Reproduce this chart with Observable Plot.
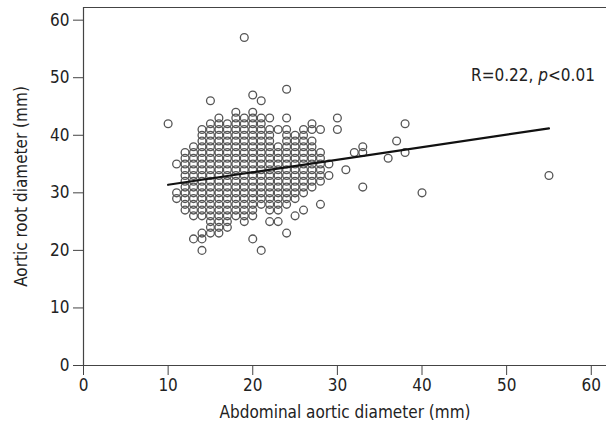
<!DOCTYPE html>
<html>
<head>
<meta charset="utf-8">
<script src="https://cdn.jsdelivr.net/npm/d3@7"></script>
<script src="https://cdn.jsdelivr.net/npm/@observablehq/plot@0.6"></script>
<style>
  html, body { margin: 0; padding: 0; background: #fff; }
  #chart svg { display: block; }
</style>
</head>
<body>
<div id="chart"></div>
<script>
// Abdominal aortic diameter (mm) columns and the aortic root diameters (mm) found in each
const abdominalColumns = [10, 11, 12, 13, 14, 15, 16, 17, 18, 19, 20, 21, 22, 23, 24, 25, 26, 27, 28, 29, 30, 31, 32, 33, 36, 37, 38, 40, 55];
const aorticRootByColumn = [
  [42],
  [35, 30, 29],
  [37, 36, 35, 34, 33, 32, 31, 30, 29, 28, 27],
  [38, 37, 36, 35, 34, 33, 32, 31, 30, 29, 28, 27, 26, 22],
  [41, 40, 39, 38, 37, 36, 35, 34, 33, 32, 31, 30, 29, 28, 27, 26, 23, 22, 20],
  [46, 42, 41, 40, 39, 38, 37, 36, 35, 34, 33, 32, 31, 30, 29, 28, 27, 26, 25, 24, 23],
  [43, 42, 41, 40, 39, 38, 37, 36, 35, 34, 33, 32, 31, 30, 29, 28, 27, 26, 25, 24, 23],
  [42, 41, 40, 39, 38, 37, 36, 35, 34, 33, 32, 31, 30, 29, 28, 27, 26, 25, 24],
  [44, 43, 42, 41, 40, 39, 38, 37, 36, 35, 34, 33, 32, 31, 30, 29, 28, 27, 26],
  [57, 43, 42, 41, 40, 39, 38, 37, 36, 35, 34, 33, 32, 31, 30, 29, 28, 27, 26, 25],
  [47, 44, 43, 42, 41, 40, 39, 38, 37, 36, 35, 34, 33, 32, 31, 30, 29, 28, 27, 26, 22],
  [46, 43, 42, 41, 40, 39, 38, 37, 36, 35, 34, 33, 32, 31, 30, 29, 28, 20],
  [43, 41, 40, 39, 38, 37, 36, 35, 34, 33, 32, 31, 30, 29, 28, 27, 25],
  [41, 38, 37, 36, 35, 34, 33, 32, 31, 30, 29, 28, 27, 25],
  [48, 43, 41, 40, 39, 38, 37, 36, 35, 34, 33, 32, 31, 30, 29, 28, 23],
  [40, 39, 38, 37, 36, 35, 34, 33, 32, 31, 30, 29, 26],
  [41, 40, 39, 38, 37, 36, 35, 34, 33, 32, 31, 30, 27],
  [42, 41, 39, 38, 37, 36, 35, 34, 33, 32, 31],
  [41, 37, 36, 35, 34, 33, 32, 28],
  [35, 33],
  [43, 41],
  [34],
  [37],
  [38, 37, 31],
  [36],
  [39],
  [42, 37],
  [30],
  [33]
];

// Regression line endpoints
const fitX = [10, 55];
const fitY = [31.4, 41.2];

const xTicks = [0, 10, 20, 30, 40, 50, 60];
const yTicks = [0, 10, 20, 30, 40, 50, 60];
const xLabel = "Abdominal aortic diameter (mm)";
const yLabel = "Aortic root diameter (mm)";
const annotation = "R=0.22, p<0.01";

const points = abdominalColumns.flatMap((x, i) => aorticRootByColumn[i].map(y => ({x, y})));
const fit = fitX.map((x, i) => ({x, y: fitY[i]}));

const xMax = 61.8, yMax = 62.2;
const font = "'Liberation Sans Narrow', 'DejaVu Sans Condensed', 'Roboto', sans-serif";

const chart = Plot.plot({
  width: 606,
  height: 432,
  marginLeft: 83,
  marginRight: 0,
  marginTop: 7,
  marginBottom: 67,
  style: {fontFamily: font, fontSize: "17px", color: "#222", background: "#fff"},
  x: {domain: [0, xMax]},
  y: {domain: [0, yMax]},
  marks: [
    Plot.axisX({ticks: xTicks, tickSize: 10, tickPadding: 3, label: xLabel, labelAnchor: "center", labelArrow: "none", labelOffset: 52, stroke: "#444", fontSize: 17}),
    Plot.axisY({ticks: yTicks, tickSize: 10, tickPadding: 4, label: yLabel, labelAnchor: "center", labelArrow: "none", labelOffset: 69, stroke: "#444", fontSize: 17}),
    Plot.ruleX([0], {stroke: "#444", strokeWidth: 1.2}),
    Plot.ruleY([0], {stroke: "#444", strokeWidth: 1.2}),
    Plot.ruleY([yMax], {stroke: "#444", strokeWidth: 1}),
    Plot.dot(points, {x: "x", y: "y", r: 3.9, stroke: "#555", strokeWidth: 1.3, fill: "none"}),
    Plot.line(fit, {x: "x", y: "y", stroke: "#111", strokeWidth: 2.2}),
    Plot.text([annotation], {x: 45.8, y: 50.4, text: d => d, textAnchor: "start", fontSize: 17, fill: "#222"})
  ]
});

// italicise the "p" in the annotation
d3.select(chart).selectAll("text").each(function() {
  const t = d3.select(this);
  if (t.text() === annotation) {
    t.text(null);
    t.append("tspan").text("R=0.22, ");
    t.append("tspan").attr("font-style", "italic").text("p");
    t.append("tspan").text("<0.01");
  }
});

document.getElementById("chart").appendChild(chart);
</script>
</body>
</html>
